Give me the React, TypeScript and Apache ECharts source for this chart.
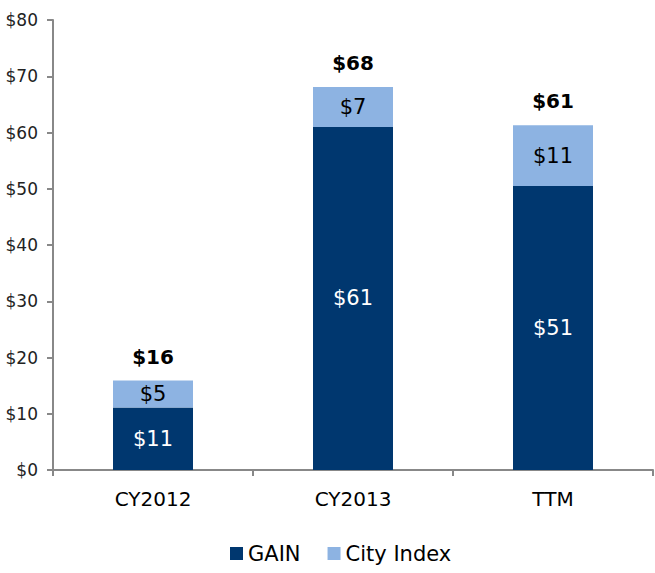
import React, { useEffect, useRef } from "react";
import * as echarts from "echarts";

const categories = ["CY2012", "CY2013", "TTM"];
const gainValues = [11.1, 61.0, 50.5];
const cityIndexValues = [4.8, 7.1, 10.8];
const totals = categories.map((_, i) => gainValues[i] + cityIndexValues[i]);

const FONT = "'DejaVu Sans', Arial, sans-serif";

export default function App() {
  const ref = useRef<HTMLDivElement>(null);
  useEffect(() => {
    if (!ref.current) return;
    const chart = echarts.init(ref.current, null, { renderer: "svg" });
    const money = (v: number) => "$" + Math.round(v);
    chart.setOption({
      animation: false,
      textStyle: { fontFamily: FONT },
      grid: { left: 53, right: 2, top: 20, bottom: 103, containLabel: false },
      legend: {
        data: ["GAIN", "City Index"],
        top: 538,
        left: 225,
        itemWidth: 13,
        itemHeight: 13,
        itemGap: 27,
        icon: "rect",
        textStyle: { fontSize: 21, color: "#000", fontFamily: FONT },
      },
      xAxis: {
        type: "category",
        data: categories,
        axisLine: { lineStyle: { color: "#888", width: 2 } },
        axisTick: { show: true, length: 6, alignWithLabel: false, lineStyle: { color: "#888", width: 2 } },
        axisLabel: { fontSize: 20, color: "#000", margin: 19, fontFamily: FONT },
      },
      yAxis: {
        type: "value",
        min: 0,
        max: 80,
        interval: 10,
        splitLine: { show: false },
        axisLine: { show: true, lineStyle: { color: "#888", width: 2 } },
        axisTick: { show: true, length: 6, lineStyle: { color: "#888", width: 2 } },
        axisLabel: { fontSize: 17, color: "#222", margin: 15, formatter: (v: number) => "$" + v, fontFamily: FONT },
      },
      series: [
        {
          name: "GAIN",
          type: "bar",
          stack: "total",
          barWidth: "40%",
          data: gainValues,
          itemStyle: { color: "#00376F" },
          label: {
            show: true,
            position: "inside",
            color: "#fff",
            fontSize: 21,
            fontFamily: FONT,
            formatter: (p: any) => money(p.value),
          },
        },
        {
          name: "City Index",
          type: "bar",
          stack: "total",
          barWidth: "40%",
          data: cityIndexValues,
          itemStyle: { color: "#8DB3E2" },
          label: {
            show: true,
            position: "inside",
            color: "#000",
            fontSize: 21,
            fontFamily: FONT,
            formatter: (p: any) => money(p.value),
          },
        },
        {
          name: "Total",
          type: "bar",
          barWidth: "40%",
          barGap: "-100%",
          data: totals,
          itemStyle: { color: "rgba(0,0,0,0)" },
          silent: true,
          z: 1,
          label: {
            show: true,
            position: "top",
            distance: 14,
            color: "#000",
            fontSize: 20,
            fontWeight: "bold",
            fontFamily: FONT,
            formatter: (p: any) => money(p.value),
          },
        },
      ],
    });
    return () => chart.dispose();
  }, []);
  return (
    <div
      ref={ref}
      style={{ position: "fixed", left: 0, top: 0, width: 655, height: 573, background: "#fff" }}
    />
  );
}
